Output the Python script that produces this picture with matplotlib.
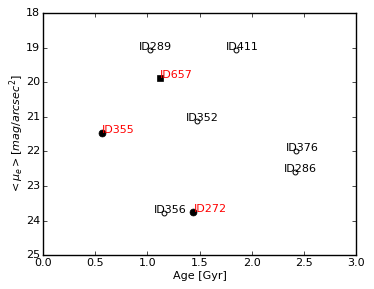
import matplotlib
matplotlib.use("Agg")
from matplotlib import pyplot as plt

# galaxies with open markers
ids_open = ['ID289', 'ID411', 'ID352', 'ID376', 'ID286', 'ID356']
age_open = [1.02, 1.85, 1.47, 2.42, 2.41, 1.16]
mu_open = [19.07, 19.07, 21.12, 21.98, 22.60, 23.77]

# galaxies with filled circles
ids_fill = ['ID355', 'ID272']
age_fill = [0.56, 1.44]
mu_fill = [21.47, 23.75]

# the square one
ids_sq = ['ID657']
age_sq = [1.12]
mu_sq = [19.88]

plt.style.use('classic')
plt.rcParams['mathtext.fontset'] = 'dejavusans'
fig = plt.figure(figsize=(3.74, 2.89), dpi=100)
ax = fig.add_axes([0.115, 0.117, 0.838, 0.838])

ax.plot(age_open, mu_open, 'o', mfc='white', mec='k', ms=3.5, mew=0.7)
ax.plot(age_fill, mu_fill, 'o', color='k', ms=5)
ax.plot(age_sq, mu_sq, 's', color='k', ms=5)

for i in range(len(ids_open)):
    ax.text(age_open[i] - 0.1, mu_open[i], ids_open[i], fontsize=8, color='k')
for i in range(len(ids_fill)):
    ax.text(age_fill[i], mu_fill[i], ids_fill[i], fontsize=8, color='r')
for i in range(len(ids_sq)):
    ax.text(age_sq[i], mu_sq[i], ids_sq[i], fontsize=8, color='r')

ax.set_xlim(0, 3.0)
ax.set_ylim(25, 18)
ax.set_xticks([0.0, 0.5, 1.0, 1.5, 2.0, 2.5, 3.0])
ax.set_yticks([18, 19, 20, 21, 22, 23, 24, 25])
ax.tick_params(labelsize=8, pad=2, length=3)
ax.set_xlabel('Age [Gyr]', fontsize=8, labelpad=2)
ax.set_ylabel(r'$<\mu_e>[mag/arcsec^2]$', fontsize=8, labelpad=0)

fig.savefig('out.png', dpi=100)
